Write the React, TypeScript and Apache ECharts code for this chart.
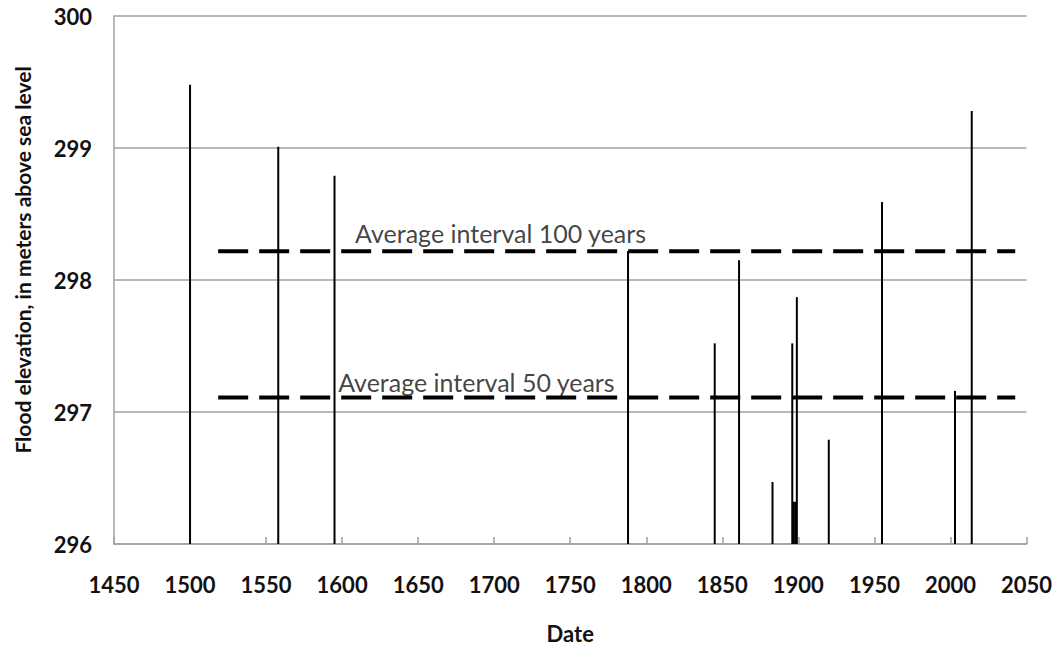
import React, { useEffect, useRef } from "react";
import * as echarts from "echarts";

// Flood events (year, elevation in m above sea level)
const floodYears = [1500, 1558, 1595, 1788, 1845, 1861, 1883, 1896, 1897, 1898, 1899, 1920, 1955, 2003, 2014];
const floodElevations = [299.48, 299.01, 298.79, 298.22, 297.52, 298.15, 296.47, 297.52, 296.32, 296.32, 297.87, 296.79, 298.59, 297.16, 299.28];

// Average-interval reference lines
const intervalNames = ["Average interval 100 years", "Average interval 50 years"];
const intervalLevels = [298.217, 297.11];
const intervalStart = [1518.5, 1518.5];
const intervalEnd = [2042.6, 2042.6];
// Label anchor points (centre of each label)
const intervalLabelYear = [1704.2, 1688.3];
const intervalLabelLevel = [298.357, 297.226];

const xMin = 1450, xMax = 2050, xStep = 50;
const yMin = 296, yMax = 300, yStep = 1;

const FONT = "Lato, 'Open Sans', sans-serif";

export default function App() {
  const ref = useRef<HTMLDivElement>(null);
  useEffect(() => {
    const chart = echarts.init(ref.current!, null, { renderer: "svg" });
    const gray = "#a0a0a0";
    const series: any[] = [
      {
        type: "bar",
        data: floodYears.map((y, i) => [y, floodElevations[i]]),
        barWidth: 2,
        itemStyle: { color: "#000" },
        z: 2,
      },
    ];
    intervalNames.forEach((name, i) => {
      series.push({
        type: "line",
        name,
        data: [
          [intervalStart[i], intervalLevels[i]],
          [intervalEnd[i], intervalLevels[i]],
        ],
        symbol: "none",
        lineStyle: { color: "#000", width: 4, type: [30, 11], cap: "butt" },
        z: 3,
      });
      series.push({
        type: "scatter",
        data: [[intervalLabelYear[i], intervalLabelLevel[i]]],
        symbolSize: 0,
        label: {
          show: true,
          position: "inside",
          formatter: name,
          fontFamily: FONT,
          fontSize: 25,
          color: "#111",
        },
        silent: true,
        z: 4,
      });
    });
    chart.setOption({
      animation: false,
      backgroundColor: "#fff",
      grid: { left: 114, right: 28, top: 16, bottom: 99 },
      xAxis: {
        type: "value",
        min: xMin,
        max: xMax,
        interval: xStep,
        name: "Date",
        nameLocation: "middle",
        nameGap: 78,
        nameTextStyle: { fontFamily: FONT, fontWeight: "bold", fontSize: 22, color: "#111" },
        axisLine: { show: true, lineStyle: { color: gray, width: 1.5 } },
        axisTick: { show: true, inside: true, length: 7, lineStyle: { color: gray, width: 1.5 } },
        axisLabel: { fontFamily: FONT, fontWeight: "bold", fontSize: 22, color: "#111", margin: 29, formatter: (v: number) => String(v) },
        splitLine: { show: false },
      },
      yAxis: {
        type: "value",
        min: yMin,
        max: yMax,
        interval: yStep,
        axisLine: { show: true, lineStyle: { color: gray, width: 1.5 } },
        axisTick: { show: false },
        axisLabel: { fontFamily: FONT, fontWeight: "bold", fontSize: 22, color: "#111", margin: 22, formatter: (v: number) => String(v) },
        splitLine: { show: true, lineStyle: { color: gray, width: 1.5 } },
      },
      graphic: [
        {
          type: "text",
          x: 22,
          y: 260,
          rotation: Math.PI / 2,
          style: {
            text: "Flood elevation, in meters above sea level",
            font: `bold 21px ${FONT}`,
            fill: "#111",
            textAlign: "center",
            textVerticalAlign: "middle",
          },
        },
      ],
      series,
    });
    return () => chart.dispose();
  }, []);
  return (
    <div
      ref={ref}
      style={{ position: "fixed", left: 0, top: 0, width: 1055, height: 649, background: "#fff" }}
    />
  );
}
